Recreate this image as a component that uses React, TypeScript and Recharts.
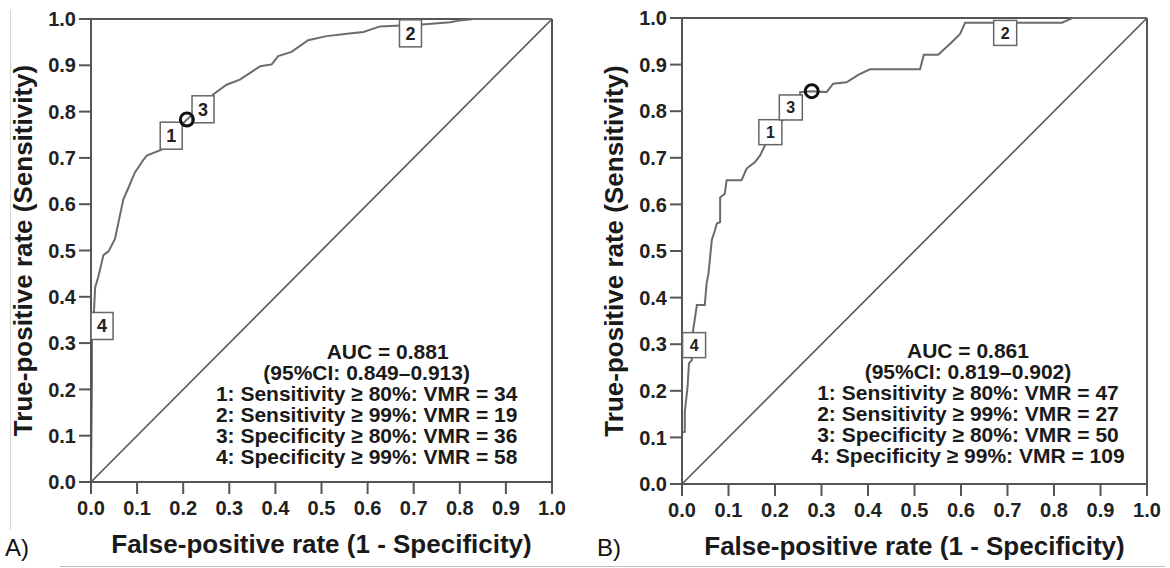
import React from 'react';
import { LineChart, Line, XAxis, YAxis, ReferenceLine, ReferenceDot } from 'recharts';

const FONT = '"Liberation Sans", Arial, Helvetica, sans-serif';

const axisTicks = [0, 0.1, 0.2, 0.3, 0.4, 0.5, 0.6, 0.7, 0.8, 0.9, 1.0];
const xTitle = 'False-positive rate (1 - Specificity)';
const yTitle = 'True-positive rate (Sensitivity)';

// Panel A ROC curve
const fprA = [0, 0.002, 0.002, 0.006, 0.009, 0.016, 0.027, 0.038, 0.052, 0.07, 0.081, 0.095, 0.113, 0.121, 0.153, 0.174, 0.208, 0.24, 0.265, 0.294, 0.323, 0.367, 0.392, 0.406, 0.435, 0.471, 0.511, 0.555, 0.591, 0.627, 0.718, 0.779, 0.8, 0.83, 1];
const tprA = [0, 0.22, 0.31, 0.36, 0.42, 0.444, 0.49, 0.498, 0.525, 0.61, 0.635, 0.668, 0.695, 0.705, 0.718, 0.748, 0.783, 0.81, 0.837, 0.858, 0.869, 0.898, 0.902, 0.92, 0.929, 0.954, 0.963, 0.968, 0.972, 0.984, 0.988, 0.993, 0.997, 1, 1];

// Panel B ROC curve
const fprB = [0, 0, 0.006, 0.006, 0.012, 0.015, 0.021, 0.024, 0.032, 0.049, 0.053, 0.057, 0.064, 0.071, 0.075, 0.082, 0.082, 0.092, 0.096, 0.128, 0.139, 0.157, 0.168, 0.182, 0.213, 0.234, 0.254, 0.254, 0.279, 0.311, 0.325, 0.354, 0.379, 0.404, 0.512, 0.52, 0.551, 0.58, 0.598, 0.609, 0.817, 0.831, 0.84, 1];
const tprB = [0, 0.11, 0.112, 0.155, 0.209, 0.259, 0.266, 0.33, 0.384, 0.384, 0.431, 0.452, 0.523, 0.545, 0.559, 0.562, 0.615, 0.623, 0.652, 0.652, 0.677, 0.691, 0.705, 0.734, 0.777, 0.8, 0.828, 0.841, 0.843, 0.841, 0.859, 0.862, 0.878, 0.89, 0.89, 0.921, 0.921, 0.948, 0.966, 0.99, 0.99, 0.996, 1, 1];

// Cut-off boxes
const boxLabels = ['1', '2', '3', '4'];
const boxXA = [0.174, 0.693, 0.243, 0.024];
const boxYA = [0.748, 0.969, 0.805, 0.337];
const boxXB = [0.19, 0.695, 0.234, 0.026];
const boxYB = [0.755, 0.968, 0.808, 0.298];

// Optimal point circles
const circleA = [0.208, 0.783];
const circleB = [0.279, 0.843];

// Annotation text
const textA = [
  'AUC = 0.881',
  '(95%CI: 0.849\u20130.913)',
  '1: Sensitivity \u2265 80%: VMR = 34',
  '2: Sensitivity \u2265 99%: VMR = 19',
  '3: Specificity \u2265 80%: VMR = 36',
  '4: Specificity \u2265 99%: VMR = 58',
];
const textB = [
  'AUC = 0.861',
  '(95%CI: 0.819\u20130.902)',
  '1: Sensitivity \u2265 80%: VMR = 47',
  '2: Sensitivity \u2265 99%: VMR = 27',
  '3: Specificity \u2265 80%: VMR = 50',
  '4: Specificity \u2265 99%: VMR = 109',
];
const textAnchorA = [0.598, 0.266];
const textAnchorB = [0.615, 0.27];

const build = (xs: number[], ys: number[]) => xs.map((x, i) => ({ fpr: x, tpr: ys[i] }));

const AXIS = '#555';
const CURVE = '#6b6b6b';

type PanelProps = {
  data: { fpr: number; tpr: number }[];
  bx: number[];
  by: number[];
  circle: number[];
  lines: string[];
  anchor: number[];
  aucDx: number;
  width: number;
  margin: { top: number; right: number; bottom: number; left: number };
  boxW: number;
  boxH: number;
  boxFont: number;
};

function Panel(p: PanelProps) {
  const xLabel = (props: any) => {
    const vb = props.viewBox || {};
    return (
      <text x={vb.x + vb.width / 2} y={vb.y + 71} textAnchor="middle" fontFamily={FONT} fontWeight={700} fontSize={26} fill="#1a1a1a">
        {xTitle}
      </text>
    );
  };
  const yLabel = (props: any) => {
    const vb = props.viewBox || {};
    const x = vb.x + vb.width - 59;
    const y = vb.y + vb.height / 2;
    return (
      <text x={x} y={y} transform={`rotate(-90, ${x}, ${y})`} textAnchor="middle" fontFamily={FONT} fontWeight={700} fontSize={26} fill="#1a1a1a">
        {yTitle}
      </text>
    );
  };
  const tickStyle = { fontSize: 20, fontWeight: 700, fill: '#222', fontFamily: FONT };
  return (
    <LineChart width={p.width} height={568} data={p.data} margin={p.margin}>
      <XAxis
        type="number"
        dataKey="fpr"
        domain={[0, 1]}
        ticks={axisTicks}
        tickFormatter={(v: number) => v.toFixed(1)}
        height={50}
        tickSize={12}
        tickMargin={7}
        axisLine={{ stroke: AXIS, strokeWidth: 2 }}
        tickLine={{ stroke: AXIS, strokeWidth: 2 }}
        tick={tickStyle}
        interval={0}
        label={{ content: xLabel }}
      />
      <YAxis
        type="number"
        dataKey="tpr"
        domain={[0, 1]}
        ticks={axisTicks}
        tickFormatter={(v: number) => v.toFixed(1)}
        width={60}
        tickSize={12}
        tickMargin={3}
        axisLine={{ stroke: AXIS, strokeWidth: 2 }}
        tickLine={{ stroke: AXIS, strokeWidth: 2 }}
        tick={tickStyle}
        interval={0}
        label={{ content: yLabel }}
      />
      <ReferenceLine y={1} stroke={AXIS} strokeWidth={2} />
      <ReferenceLine x={1} stroke={AXIS} strokeWidth={2} />
      <ReferenceLine segment={[{ x: 0, y: 0 }, { x: 1, y: 1 }]} stroke={AXIS} strokeWidth={1.6} />
      <Line type="linear" dataKey="tpr" stroke={CURVE} strokeWidth={2} dot={false} activeDot={false} isAnimationActive={false} />
      {boxLabels.map((lab, i) => (
        <ReferenceDot
          key={lab}
          x={p.bx[i]}
          y={p.by[i]}
          r={0}
          ifOverflow="visible"
          shape={(s: any) => (
            <g>
              <rect x={s.cx - p.boxW / 2} y={s.cy - p.boxH / 2} width={p.boxW} height={p.boxH} fill="#fff" stroke="#666" strokeWidth={1.5} />
              <text x={s.cx} y={s.cy + p.boxFont * 0.36} textAnchor="middle" fontFamily={FONT} fontWeight={700} fontSize={p.boxFont} fill="#222">
                {lab}
              </text>
            </g>
          )}
        />
      ))}
      <ReferenceDot x={p.circle[0]} y={p.circle[1]} r={6.5} fill="none" stroke="#111" strokeWidth={3} ifOverflow="visible" />
      <ReferenceDot
        x={p.anchor[0]}
        y={p.anchor[1]}
        r={0}
        ifOverflow="visible"
        shape={(s: any) => (
          <text x={s.cx} y={s.cy} textAnchor="middle" fontFamily={FONT} fontWeight={700} fontSize={21} fill="#1a1a1a">
            {p.lines.map((l, i) => (
              <tspan key={i} x={s.cx + (i === 0 ? p.aucDx : 0)} dy={i === 0 ? 0 : 21}>
                {l}
              </tspan>
            ))}
          </text>
        )}
      />
    </LineChart>
  );
}

export default function App() {
  return (
    <div style={{ position: 'absolute', left: 0, top: 0, width: 1170, height: 568, background: '#fff', overflow: 'hidden' }}>
      <div style={{ position: 'absolute', left: 10, top: 10, width: 1, height: 520, background: '#d4d4d4' }} />
      <div style={{ position: 'absolute', left: 60, top: 566, width: 1105, height: 1, background: '#bdbdbd' }} />
      <div style={{ position: 'absolute', left: 0, top: 0 }}>
        <Panel
          data={build(fprA, tprA)}
          bx={boxXA}
          by={boxYA}
          circle={circleA}
          lines={textA}
          anchor={textAnchorA}
          aucDx={21}
          width={580}
          margin={{ top: 19, right: 28, bottom: 36, left: 31 }}
          boxW={22}
          boxH={27}
          boxFont={18}
        />
      </div>
      <div style={{ position: 'absolute', left: 580, top: 0 }}>
        <Panel
          data={build(fprB, tprB)}
          bx={boxXB}
          by={boxYB}
          circle={circleB}
          lines={textB}
          anchor={textAnchorB}
          aucDx={0}
          width={590}
          margin={{ top: 18, right: 23, bottom: 34, left: 42 }}
          boxW={23}
          boxH={25}
          boxFont={16}
        />
      </div>
      <div style={{ position: 'absolute', left: 5, top: 536, fontFamily: FONT, fontSize: 24, lineHeight: '24px', color: '#111' }}>A)</div>
      <div style={{ position: 'absolute', left: 597, top: 536, fontFamily: FONT, fontSize: 24, lineHeight: '24px', color: '#111' }}>B)</div>
    </div>
  );
}
